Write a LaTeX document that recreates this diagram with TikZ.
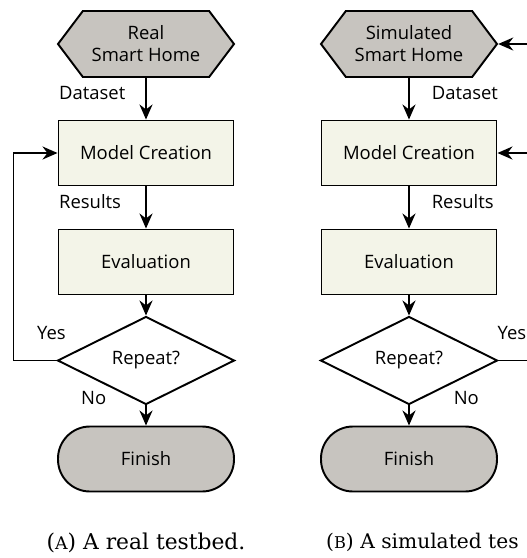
\documentclass[tikz,border=0pt]{standalone}
\usepackage{fontspec}
\newfontfamily\flowfont{Open Sans}
\newfontfamily\capfont{DejaVu Serif}
\newcommand{\capsc}[1]{{\fontsize{0.8\dimexpr\fontdimen6\font\relax}{12}\selectfont #1}}
\usetikzlibrary{shapes,arrows.meta,positioning}
\definecolor{homegray}{RGB}{199,196,191}
\definecolor{stepcream}{RGB}{243,244,232}

\begin{document}
\begin{tikzpicture}[node distance=2.18cm,
    font=\flowfont\fontsize{10.5}{12.5}\selectfont,
    home/.style={signal, signal to=east and west, signal pointer angle=106, draw, fill=homegray, line width=1.1pt, minimum width=3.52cm, minimum height=1.32cm, align=center},
    stepbox/.style={rectangle, draw, fill=stepcream, line width=1.1pt, minimum width=3.5cm, minimum height=1.3cm},
    decision/.style={diamond, draw, fill=white, line width=1.1pt, aspect=2, minimum width=3.54cm, minimum height=1.76cm, inner sep=0pt},
    finish/.style={rectangle, draw, fill=homegray, rounded corners=0.64cm, line width=1.1pt, minimum width=3.52cm, minimum height=1.3cm},
    flow/.style={-{Stealth[length=0.3cm, width=0.26cm]}, line width=1.1pt},
    caption/.style={font=\capfont\fontsize{12.4}{15}\selectfont}]

    \useasboundingbox (0,0) rectangle (10.54,-11.16);
    \clip (0,0) rectangle (10.54,-11.16);

    % real testbed
    \node[home] (sh1) at (2.92,-0.88) {Real\\Smart Home};
    \node[stepbox, below of=sh1] (mc1) {Model Creation};
    \node[stepbox, below of=mc1] (ev1) {Evaluation};
    \node[decision, below of=ev1, yshift=0.21cm] (rp1) {Repeat?};
    \node[finish, below of=rp1, yshift=0.21cm] (fin1) {Finish};
    \node[caption, below of=fin1, yshift=0.51cm] (capA) {(\capsc{A}) A real testbed.};

    \draw[flow] (sh1) -- node[pos=0.36, left, text width=1.6cm, align=left] {Dataset} (mc1);
    \draw[flow] (mc1) -- node[pos=0.35, left, text width=1.6cm, align=left] {Results} (ev1);
    \draw[flow] (ev1) -- (rp1);
    \draw[flow] (rp1) -- node[pos=0, left=0.66cm, yshift=0.14cm] {No} (fin1);
    \draw[flow] (rp1.west) -- node[pos=0.12, above=0.28cm] {Yes} ++(-0.86,0) |- (mc1.west);

    % simulated testbed
    \node[home, right of=sh1, xshift=3.08cm] (sh2) {Simulated\\Smart Home};
    \node[stepbox, below of=sh2] (mc2) {Model Creation};
    \node[stepbox, below of=mc2] (ev2) {Evaluation};
    \node[decision, below of=ev2, yshift=0.21cm] (rp2) {Repeat?};
    \node[finish, below of=rp2, yshift=0.21cm] (fin2) {Finish};
    \node[caption, font=\capfont\fontsize{11.5}{14}\selectfont, below of=fin2, yshift=0.51cm, xshift=-1.78cm, anchor=west] (capB) {(\capsc{B}) A simulated tes};
    \coordinate (back) at (10.9,0);

    \draw[flow] (sh2) -- node[pos=0.36, right=0.32cm] {Dataset} (mc2);
    \draw[flow] (mc2) -- node[pos=0.35, right=0.32cm] {Results} (ev2);
    \draw[flow] (ev2) -- (rp2);
    \draw[flow] (rp2) -- node[pos=0, right=0.76cm, yshift=0.14cm] {No} (fin2);
    \draw[flow] (rp2.east) -- node[pos=0.29, above=0.28cm] {Yes} (rp2.east -| back) |- (sh2.east);
    \draw[flow] (mc2.east -| back) -- (mc2.east);
\end{tikzpicture}
\end{document}
